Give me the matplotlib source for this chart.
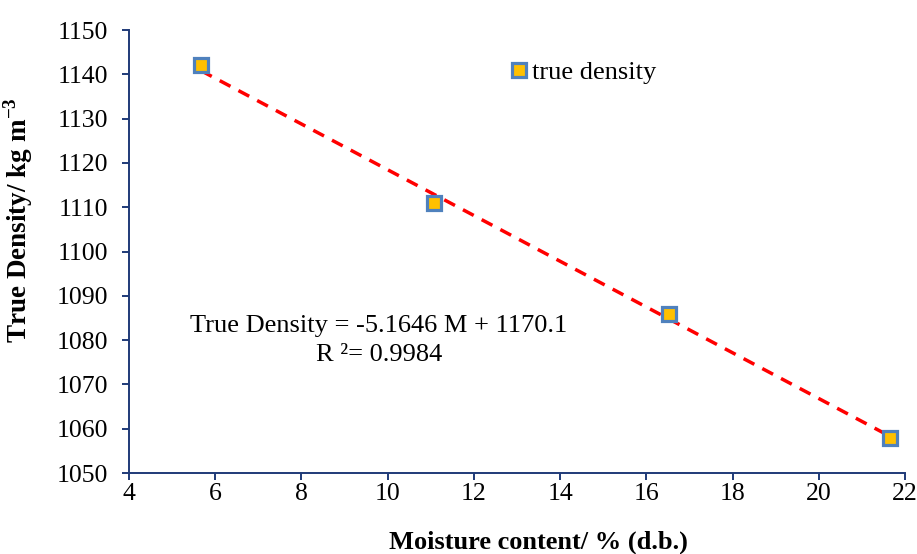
import numpy as np
import matplotlib
matplotlib.use("Agg")
import matplotlib.pyplot as plt

plt.rcParams['font.family'] = ['Liberation Serif', 'DejaVu Serif']
plt.rcParams['mathtext.fontset'] = 'custom'
plt.rcParams['mathtext.rm'] = 'Liberation Serif'
plt.rcParams['mathtext.bf'] = 'Liberation Serif:bold'

# moisture content (% d.b.) and measured true density (kg/m3)
moisture = [5.67, 11.08, 16.53, 21.66]
true_density = [1142.0, 1111.0, 1086.0, 1058.0]

# linear fit reported on the chart
slope = -5.1646
intercept = 1170.1
r2 = 0.9984

axis_col = '#1F3A78'

fig = plt.figure(figsize=(9.17, 5.54), dpi=100)
ax = fig.add_axes([0.1407, 0.1462, 0.8463, 0.7996])

fit_x = np.array([moisture[0], moisture[-1]])
ax.plot(fit_x, slope * fit_x + intercept, color='#FF0000', lw=2.5,
        ls=(0, (3.5, 2.6)), zorder=2)
ax.plot(moisture, true_density, ls='none', marker='s', ms=9.5,
        mfc='#FFC000', mec='#4F81BD', mew=2.3, zorder=3, clip_on=False)

ax.set_xlim(4, 22)
ax.set_ylim(1050, 1150)
ax.set_xticks(np.arange(4, 23, 2))
ax.set_yticks(np.arange(1050, 1151, 10))
ax.tick_params(labelsize=18.5, direction='out', length=5, width=1.4,
               color=axis_col, labelcolor='black')
ax.tick_params(axis='y', pad=10)
ax.tick_params(axis='x', pad=2)
for s in ['top', 'right']:
    ax.spines[s].set_visible(False)
for s in ['left', 'bottom']:
    ax.spines[s].set_color(axis_col)
    ax.spines[s].set_linewidth(1.4)

ax.set_xlabel('Moisture content/ % (d.b.)', fontsize=19, fontweight='bold')
ax.xaxis.set_label_coords(0.527, -0.129)
ax.set_ylabel('True Density/ kg m$^{\\mathbf{-3}}$', fontsize=19.5, fontweight='bold')
ax.yaxis.set_label_coords(-0.121, 0.571)

ax.plot([], [], ls='none', marker='s', ms=9.5, mfc='#FFC000', mec='#4F81BD',
        mew=2.3, label='true density')
ax.legend(loc='center left', bbox_to_anchor=(0.485, 0.905), frameon=False,
          fontsize=19, handletextpad=0.0, handlelength=1.0, borderaxespad=0,
          borderpad=0)

ax.text(0.322, 0.30, f'True Density = {slope} M + {intercept}\nR \u00b2= {r2}',
        transform=ax.transAxes, ha='center', va='center', fontsize=19,
        linespacing=1.4, multialignment='center')

fig.savefig('out.png', dpi=100)
